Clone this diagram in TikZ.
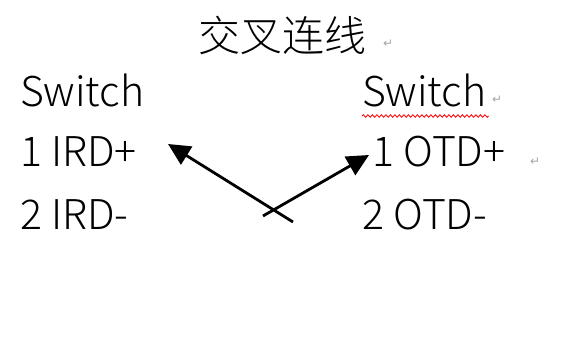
\documentclass[tikz,border=0pt]{standalone}
\usepackage{fontspec}
\setmainfont{Noto Sans CJK SC}[UprightFont={* Light}]
\newfontfamily\symfont{DejaVu Sans}
\usetikzlibrary{arrows.meta,decorations.pathmorphing}

\begin{document}
\begin{tikzpicture}[x=1pt,y=-1pt,
    port/.style={anchor=base west, inner sep=0pt, font=\fontsize{41}{41}\selectfont},
    retmark/.style={anchor=base west, inner sep=0pt, text=gray!70, font=\symfont\fontsize{12}{12}\selectfont},
    wire/.style={line width=2.8pt, -{Triangle[length=22pt,width=21pt]}}
]
\useasboundingbox (0,0) rectangle (569,347);

% title
\node[inner sep=0pt, font=\fontsize{42}{42}\selectfont] (title) at (282,35) {交叉连线};
\node[retmark] (rt) at (383,48) {↵};

% column heads
\node[port] (swL) at (20,107) {Switch};
\node[port] (swR) at (362,107) {Switch};
\node[retmark] (rs) at (492,104) {↵};
\draw[red, line width=0.8pt, decorate, decoration={snake, amplitude=1.3pt, segment length=4.5pt}]
    ([yshift=-9pt]swR.base west) -- ([yshift=-9pt,xshift=2pt]swR.base east);

% pin rows
\node[port] (irdA) at (20,167) {1 IRD+};
\node[port] (otdA) at (372,167) {1 OTD+};
\node[retmark] (ro) at (530,166) {↵};
\node[port] (irdB) at (20,229) {2 IRD-};
\node[port] (otdB) at (362,229) {2 OTD-};

% crossing wires
\coordinate (endA) at (293,222);
\coordinate (endB) at (263,216);
\coordinate (tipL) at (168,144);
\coordinate (tipR) at (369,155);
\draw[wire] (endA) -- (tipL);
\draw[wire] (endB) -- (tipR);

\end{tikzpicture}
\end{document}
